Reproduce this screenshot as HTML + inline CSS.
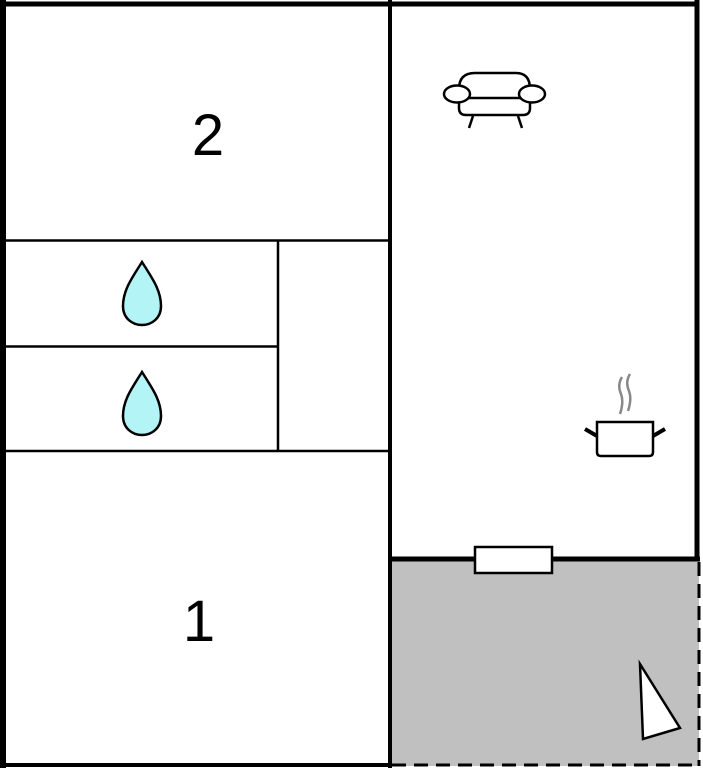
<!DOCTYPE html>
<html><head><style>
html,body{margin:0;padding:0;background:#fff;}
svg{display:block;}
text{font-family:"Liberation Sans",sans-serif;}
</style></head><body>
<svg width="703" height="768" viewBox="0 0 703 768" xmlns="http://www.w3.org/2000/svg">
<rect x="390" y="558" width="309" height="208" fill="#c0c0c0"/>
<g stroke="#000" fill="none">
<line x1="3" y1="0" x2="3" y2="768" stroke-width="6"/>
<line x1="0" y1="4" x2="699" y2="4" stroke-width="5"/>
<line x1="697" y1="0" x2="697" y2="560" stroke-width="5"/>
<line x1="390" y1="0" x2="390" y2="768" stroke-width="4"/>
<line x1="390" y1="559" x2="700" y2="559" stroke-width="5"/>
<line x1="0" y1="765" x2="392" y2="765" stroke-width="4"/>
<line x1="699" y1="562" x2="699" y2="766" stroke-width="3" stroke-dasharray="14,8"/>
<line x1="392" y1="765" x2="699" y2="765" stroke-width="3" stroke-dasharray="14,8"/>
<line x1="4" y1="240.5" x2="390" y2="240.5" stroke-width="2.5"/>
<line x1="4" y1="346.5" x2="278" y2="346.5" stroke-width="2.5"/>
<line x1="4" y1="451" x2="390" y2="451" stroke-width="2.5"/>
<line x1="278" y1="240" x2="278" y2="451" stroke-width="2.5"/>
</g>
<rect x="475" y="547" width="77" height="26" fill="#fff" stroke="#000" stroke-width="2.5"/>
<polygon points="640,664 680,728 643,739" fill="#fff" stroke="#000" stroke-width="2.5"/>
<g fill="#b3f5f7" stroke="#000" stroke-width="2.5">
<path d="M142,262 C132,278 123,290 123,306 C123,318 132,325 142,325 C152,325 161,318 161,306 C161,290 152,278 142,262 Z"/>
<path d="M142,372 C132,388 123,400 123,416 C123,428 132,435 142,435 C152,435 161,428 161,416 C161,400 152,388 142,372 Z"/>
</g>
<text x="208" y="155" font-size="58" text-anchor="middle">2</text>
<text x="199" y="641" font-size="58" text-anchor="middle">1</text>
<g stroke="#000" stroke-width="2.5" fill="#fff">
<path d="M459,89 Q459,73 475,73 L516,73 Q530,73 530,89 L530,108 Q530,115 523,115 L466,115 Q459,115 459,108 Z"/>
<line x1="467" y1="98" x2="523" y2="98"/>
<ellipse cx="457" cy="94" rx="13" ry="8.5"/>
<ellipse cx="532" cy="94" rx="13" ry="8.5"/>
<line x1="473" y1="116" x2="469" y2="128"/>
<line x1="518" y1="116" x2="522" y2="128"/>
</g>
<g stroke="#888" stroke-width="2.5" fill="none">
<path d="M622,377 Q617,385 621,394 Q624,402 620,414"/>
<path d="M630,374 Q625,382 629,391 Q632,399 628,411"/>
</g>
<g stroke="#000" fill="#fff">
<path d="M597,422 L653,422 L653,452 Q653,456 649,456 L601,456 Q597,456 597,452 Z" stroke-width="2.5"/>
<line x1="585" y1="429" x2="597" y2="436" stroke-width="4"/>
<line x1="665" y1="429" x2="653" y2="436" stroke-width="4"/>
</g>
</svg>
</body></html>
